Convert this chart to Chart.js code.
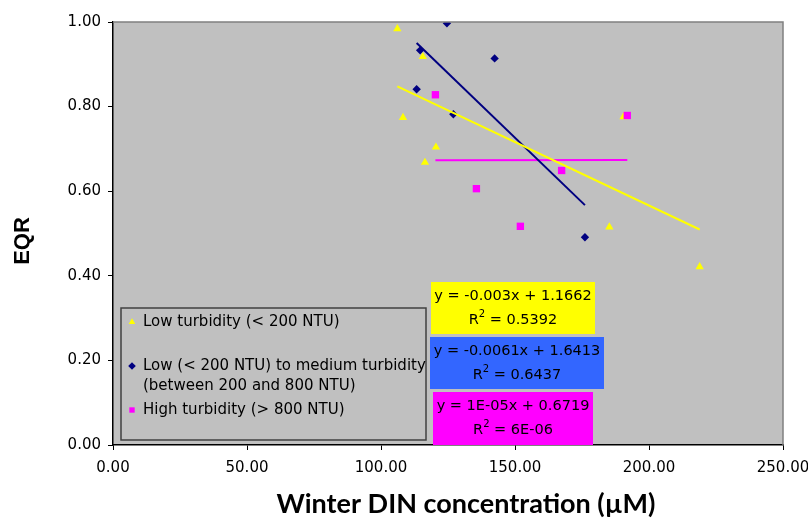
<!DOCTYPE html>
<html>
<head>
<meta charset="utf-8">
<script src="https://cdn.jsdelivr.net/npm/chart.js@4.4.1/dist/chart.umd.min.js"></script>
<style>
html, body { margin: 0; padding: 0; background: #fff; }
#wrap { width: 808px; height: 522px; }
</style>
</head>
<body>
<div id="wrap"><canvas id="chart" width="808" height="522"></canvas></div>
<script>
// Winter DIN (uM) vs EQR, three turbidity groups
const lowX = [106.1, 115.6, 108.2, 120.5, 116.4, 185.2, 218.9, 190.5];
const lowY = [0.984, 0.918, 0.774, 0.704, 0.668, 0.515, 0.421, 0.776];
const medX = [124.6, 114.6, 142.4, 113.3, 127.0, 176.1];
const medY = [0.997, 0.933, 0.914, 0.841, 0.782, 0.491];
const highX = [120.3, 191.9, 167.4, 135.6, 152.0];
const highY = [0.828, 0.779, 0.649, 0.606, 0.517];

const seriesNames = [
    ['Low turbidity (< 200 NTU)'],
    ['Low (< 200 NTU) to medium turbidity', '(between 200 and 800 NTU)'],
    ['High turbidity (> 800 NTU)']
];

// trendline coefficients as printed on the chart
const slopes = [-0.003, -0.0061, 0.00001];
const intercepts = [1.1662, 1.6413, 0.6719];
const eqTexts = ['y = -0.003x + 1.1662', 'y = -0.0061x + 1.6413', 'y = 1E-05x + 0.6719'];
const r2Texts = ['0.5392', '0.6437', '6E-06'];

const xMin = 0, xMax = 250, xStep = 50;
const yMin = 0, yMax = 1, yStep = 0.2;

const colors = ['#FFFF00', '#000080', '#FF00FF'];
const boxColors = ['#FFFF00', '#3366FF', '#FF00FF'];
const styles = ['triangle', 'rectRot', 'rect'];
const radii = [4.8, 4.2, 5.2];

function pts(xs, ys) {
    return xs.map((x, i) => ({ x: x, y: ys[i] }));
}

function trend(xs, i) {
    const a = Math.min(...xs), b = Math.max(...xs);
    return [
        { x: a, y: slopes[i] * a + intercepts[i] },
        { x: b, y: slopes[i] * b + intercepts[i] }
    ];
}

const allX = [lowX, medX, highX];
const allY = [lowY, medY, highY];

const datasets = [];
allX.forEach((xs, i) => {
    datasets.push({
        label: 'trend ' + i,
        data: trend(xs, i),
        showLine: true,
        borderColor: colors[i],
        borderWidth: 2,
        pointRadius: 0,
        order: i
    });
});
allX.forEach((xs, i) => {
    datasets.push({
        label: seriesNames[i].join(' '),
        data: pts(xs, allY[i]),
        pointStyle: styles[i],
        pointRadius: radii[i],
        pointHoverRadius: radii[i],
        backgroundColor: colors[i],
        borderColor: colors[i],
        borderWidth: 0,
        order: 10 - i
    });
});

const PLOT_LEFT = 113, PLOT_BOTTOM_H = 77;

const decor = {
    id: 'decor',
    beforeDraw(chart) {
        const { ctx, chartArea: a } = chart;
        ctx.save();
        ctx.fillStyle = '#C0C0C0';
        ctx.fillRect(a.left, a.top, a.right - a.left, a.bottom - a.top);
        ctx.restore();
    },
    afterDraw(chart) {
        const { ctx, chartArea: a } = chart;
        ctx.save();
        // top and right frame
        ctx.strokeStyle = '#808080';
        ctx.lineWidth = 1.5;
        ctx.beginPath();
        ctx.moveTo(a.left, a.top);
        ctx.lineTo(a.right, a.top);
        ctx.lineTo(a.right, a.bottom);
        ctx.stroke();

        // legend
        ctx.fillStyle = '#C0C0C0';
        ctx.fillRect(121, 308, 305, 132);
        ctx.strokeStyle = '#404040';
        ctx.lineWidth = 1.5;
        ctx.strokeRect(121, 308, 305, 132);
        const rows = [322, 366, 410];
        ctx.font = '15px "DejaVu Sans"';
        ctx.textAlign = 'left';
        ctx.textBaseline = 'middle';
        rows.forEach((y, i) => {
            ctx.fillStyle = colors[i];
            ctx.strokeStyle = colors[i];
            Chart.helpers.drawPoint(ctx, { pointStyle: styles[i], radius: 3.8, rotation: 0, borderWidth: 0 }, 132, y);
            ctx.fillStyle = '#000';
            seriesNames[i].forEach((t, k) => ctx.fillText(t, 143, y + k * 20));
        });

        // equation boxes
        const boxes = [[431, 282, 164, 52], [430, 337, 174, 52], [433, 392, 160, 53]];
        const f = '14.5px "DejaVu Sans"', fs = '10px "DejaVu Sans"';
        boxes.forEach((b, i) => {
            ctx.fillStyle = boxColors[i];
            ctx.fillRect(b[0], b[1], b[2], b[3]);
            const cx = b[0] + b[2] / 2;
            ctx.fillStyle = '#000';
            ctx.textAlign = 'center';
            ctx.font = f;
            ctx.fillText(eqTexts[i], cx, b[1] + 14.5);
            // R squared with superscript
            ctx.textAlign = 'left';
            const rest = ' = ' + r2Texts[i];
            const wR = ctx.measureText('R').width;
            const wRest = ctx.measureText(rest).width;
            ctx.font = fs;
            const w2 = ctx.measureText('2').width;
            const x = cx - (wR + w2 + wRest) / 2;
            const y = b[1] + 38.5;
            ctx.font = f;
            ctx.fillText('R', x, y);
            ctx.font = fs;
            ctx.fillText('2', x + wR, y - 6);
            ctx.font = f;
            ctx.fillText(rest, x + wR + w2, y);
        });

        // axis titles
        ctx.fillStyle = '#000';
        ctx.textAlign = 'center';
        ctx.textBaseline = 'middle';
        ctx.font = 'bold 27px Lato';
        ctx.fillText('Winter DIN concentration (\u00b5M)', 466, 504);
        ctx.translate(23, 241);
        ctx.rotate(-Math.PI / 2);
        ctx.font = 'bold 22px "Liberation Sans"';
        ctx.fillText('EQR', 0, 0);
        ctx.restore();
    }
};

new Chart(document.getElementById('chart').getContext('2d'), {
    type: 'scatter',
    data: { datasets: datasets },
    options: {
        responsive: false,
        animation: false,
        layout: { padding: { top: 22, right: 25, left: 0, bottom: 0 } },
        plugins: { legend: { display: false }, tooltip: { enabled: false } },
        scales: {
            x: {
                type: 'linear',
                min: xMin,
                max: xMax,
                afterFit: s => { s.height = PLOT_BOTTOM_H; s.paddingLeft = 0; s.paddingRight = 0; },
                ticks: {
                    stepSize: xStep,
                    color: '#000',
                    padding: 9,
                    maxRotation: 0,
                    font: { family: 'DejaVu Sans', size: 15 },
                    callback: v => v.toFixed(2)
                },
                grid: { drawOnChartArea: false, color: '#000', tickLength: 5 },
                border: { color: '#000', width: 1.5 }
            },
            y: {
                type: 'linear',
                min: yMin,
                max: yMax,
                afterFit: s => { s.width = PLOT_LEFT; s.paddingTop = 0; s.paddingBottom = 0; },
                ticks: {
                    stepSize: yStep,
                    color: '#000',
                    padding: 7,
                    font: { family: 'DejaVu Sans', size: 15 },
                    callback: v => v.toFixed(2)
                },
                grid: { drawOnChartArea: false, color: '#000', tickLength: 5 },
                border: { color: '#000', width: 1.5 }
            }
        }
    },
    plugins: [decor]
});
</script>
</body>
</html>
